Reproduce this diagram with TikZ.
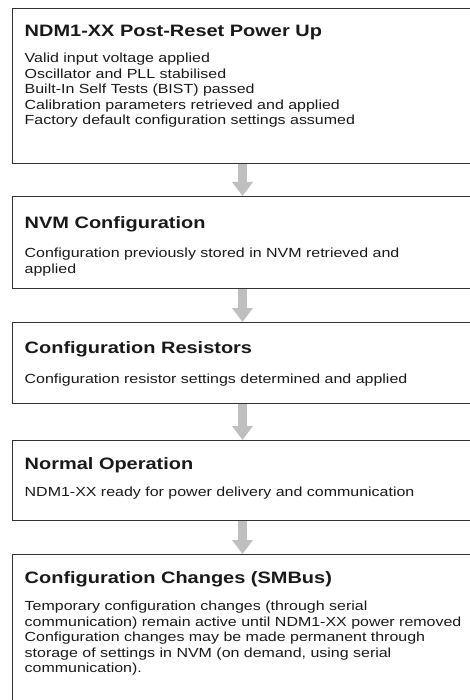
\documentclass[tikz,border=0pt]{standalone}
\usepackage{fontspec}
\setmainfont{Liberation Sans}[FakeStretch=1.21]
\usetikzlibrary{positioning,arrows.meta}

\tikzset{
  stage/.style={draw=black!80, line width=1pt, minimum width=461pt, inner sep=0pt},
  stagehead/.style={anchor=north west, inner sep=0pt, text=black!90,
    font=\fontsize{16.5}{19}\selectfont\bfseries},
  stagebody/.style={anchor=north west, inner sep=0pt, align=left, text=black!90,
    font=\fontsize{13.2}{15.5}\selectfont},
  flow/.style={line width=9pt, draw=black!25, -{Triangle[width=20pt,length=14pt]}}
}

\begin{document}
\begin{tikzpicture}[x=1pt, y=1pt]

    \useasboundingbox (0,0) rectangle (470,-700);

    % Define nodes
    \node[stage, anchor=north, minimum height=155pt] at (242.5,-8) (reset) {};
    \node[stage, minimum height=92pt, below=32pt of reset]  (nvm) {};
    \node[stage, minimum height=81pt, below=33pt of nvm]    (resistors) {};
    \node[stage, minimum height=80pt, below=36pt of resistors] (normal) {};
    \node[stage, minimum height=170pt, below=33pt of normal] (smbus) {};

    % Texts
    \node[stagehead] at ([xshift=13pt, yshift=-17pt]reset.north west) (reset-h) {NDM1-XX Post-Reset Power Up};
    \node[stagebody] at ([xshift=13pt, yshift=-45pt]reset.north west) (reset-b)
      {Valid input voltage applied\\
       Oscillator and PLL stabilised\\
       Built-In Self Tests (BIST) passed\\
       Calibration parameters retrieved and applied\\
       Factory default configuration settings assumed};

    \node[stagehead] at ([xshift=13pt, yshift=-20pt]nvm.north west) (nvm-h) {NVM Configuration};
    \node[stagebody] at ([xshift=13pt, yshift=-52pt]nvm.north west) (nvm-b)
      {Configuration previously stored in NVM retrieved and\\
       applied};

    \node[stagehead] at ([xshift=13pt, yshift=-19pt]resistors.north west) (resistors-h) {Configuration Resistors};
    \node[stagebody] at ([xshift=13pt, yshift=-52pt]resistors.north west) (resistors-b)
      {Configuration resistor settings determined and applied};

    \node[stagehead] at ([xshift=13pt, yshift=-17pt]normal.north west) (normal-h) {Normal Operation};
    \node[stagebody] at ([xshift=13pt, yshift=-47pt]normal.north west) (normal-b)
      {NDM1-XX ready for power delivery and communication};

    \node[stagehead] at ([xshift=13pt, yshift=-17pt]smbus.north west) (smbus-h) {Configuration Changes (SMBus)};
    \node[stagebody] at ([xshift=13pt, yshift=-47pt]smbus.north west) (smbus-b)
      {Temporary configuration changes (through serial\\
       communication) remain active until NDM1-XX power removed\\
       Configuration changes may be made permanent through\\
       storage of settings in NVM (on demand, using serial\\
       communication).};

    % Connect the nodes
    \draw[flow] (reset) -- (nvm);
    \draw[flow] (nvm) -- (resistors);
    \draw[flow] (resistors) -- (normal);
    \draw[flow] (normal) -- (smbus);

\end{tikzpicture}
\end{document}
